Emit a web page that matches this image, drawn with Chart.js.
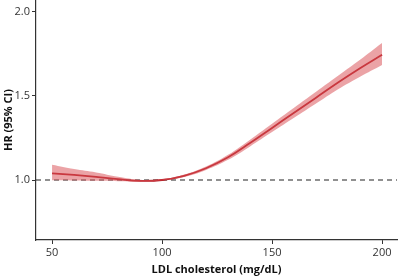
<!DOCTYPE html>
<html lang="en">
<head>
  <meta charset="UTF-8">
  <title>HR by LDL cholesterol</title>
  <script src="https://cdn.jsdelivr.net/npm/chart.js"></script>
  <style>
    html, body { margin: 0; padding: 0; background: #fff; }
    .wrap { width: 400px; height: 278px; }
  </style>
</head>
<body>
  <div class="wrap"><canvas id="hrChart"></canvas></div>

  <script>
    // LDL (mg/dL) and hazard ratio with 95% CI
    const ldl   = [50, 60, 70, 80, 90, 100, 110, 120, 130, 140, 150, 160, 170, 180, 190, 200];
    const hr    = [1.04, 1.03, 1.018, 1.005, 0.995, 1.0, 1.025, 1.07, 1.135, 1.22, 1.31, 1.4, 1.49, 1.58, 1.665, 1.745];
    const hrLow = [0.998, 0.997, 0.995, 0.993, 0.99, 0.997, 1.018, 1.06, 1.12, 1.2, 1.285, 1.37, 1.455, 1.54, 1.615, 1.685];
    const hrUp  = [1.09, 1.065, 1.045, 1.02, 1.002, 1.004, 1.032, 1.08, 1.15, 1.24, 1.335, 1.43, 1.525, 1.62, 1.715, 1.815];
    const xTicks = [50, 100, 150, 200];
    const yTicks = [1.0, 1.5, 2.0];
    const refHR = 1.0;

    const pts = arr => arr.map((v, i) => ({ x: ldl[i], y: v }));

    // dashed reference line at HR = 1
    const refLine = {
      id: 'refLine',
      beforeDatasetsDraw(chart) {
        const { ctx, chartArea, scales } = chart;
        const y = scales.y.getPixelForValue(refHR);
        ctx.save();
        ctx.strokeStyle = '#222';
        ctx.lineWidth = 1.2;
        ctx.setLineDash([5, 4]);
        ctx.beginPath();
        ctx.moveTo(chartArea.left, y);
        ctx.lineTo(chartArea.right, y);
        ctx.stroke();
        ctx.restore();
      }
    };

    const tickFont = { family: 'Open Sans', size: 11 };
    const titleFont = { family: 'Open Sans', size: 11, weight: 'bold' };

    new Chart(document.getElementById('hrChart'), {
      type: 'line',
      data: {
        datasets: [
          { label: 'upper', data: pts(hrUp), borderWidth: 0, pointRadius: 0,
            backgroundColor: 'rgba(218, 88, 92, 0.55)', fill: '+1', tension: 0.4 },
          { label: 'lower', data: pts(hrLow), borderWidth: 0, pointRadius: 0, fill: false, tension: 0.4 },
          { label: 'HR', data: pts(hr), borderColor: '#b3121b', borderWidth: 1.8,
            pointRadius: 0, fill: false, tension: 0.4 }
        ]
      },
      options: {
        responsive: true,
        maintainAspectRatio: false,
        animation: false,
        layout: { padding: { top: 0, right: 3, bottom: 0, left: 2 } },
        plugins: { legend: { display: false }, tooltip: { enabled: false } },
        scales: {
          x: {
            type: 'linear', min: 42.7, max: 206.8,
            afterBuildTicks: s => { s.ticks = xTicks.map(v => ({ value: v })); },
            afterFit: s => { s.height = 38; s.paddingLeft = 0; s.paddingRight = 0; },
            ticks: { color: '#333', font: tickFont, padding: 2, maxRotation: 0 },
            grid: { drawOnChartArea: false, tickLength: 4, color: '#333' },
            border: { color: '#333', width: 1.2 },
            title: { display: true, text: 'LDL cholesterol (mg/dL)', color: '#111', font: titleFont, padding: { top: 2, bottom: 2 } }
          },
          y: {
            min: 0.643, max: 2.071,
            afterBuildTicks: s => { s.ticks = yTicks.map(v => ({ value: v })); },
            afterFit: s => { s.width = 34; s.paddingTop = 0; s.paddingBottom = 0; },
            ticks: { color: '#333', font: tickFont, padding: 2, callback: v => v.toFixed(1) },
            grid: { drawOnChartArea: false, tickLength: 4, color: '#333' },
            border: { color: '#333', width: 1.2 },
            title: { display: true, text: 'HR (95% CI)', color: '#111', font: titleFont, padding: { top: 0, bottom: 0 } }
          }
        }
      },
      plugins: [refLine]
    });
  </script>
</body>
</html>
